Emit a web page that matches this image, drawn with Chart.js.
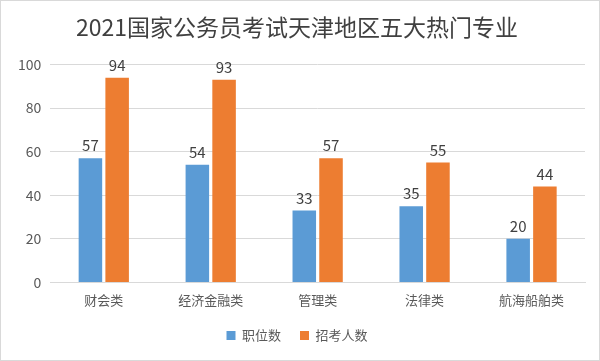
<!DOCTYPE html>
<html>
<head>
<meta charset="utf-8">
<script src="https://cdn.jsdelivr.net/npm/chart.js@4/dist/chart.umd.min.js"></script>
<style>
  html, body { margin: 0; padding: 0; background: #fff; }
  #wrap { position: relative; width: 598px; height: 359px; border: 1px solid #d9d9d9; }
</style>
</head>
<body>
<div id="wrap"><canvas id="chart"></canvas></div>
<script>
// chart data
const categories = ['财会类', '经济金融类', '管理类', '法律类', '航海船舶类'];
const positions = [57, 54, 33, 35, 20];
const applicants = [94, 93, 57, 55, 44];
const yTicks = [0, 20, 40, 60, 80, 100];

const FONT = '"Noto Sans CJK SC", "Liberation Sans", sans-serif';

// draw value labels above each bar
const valueLabels = {
  id: 'valueLabels',
  afterDatasetsDraw(chart) {
    const ctx = chart.ctx;
    ctx.save();
    ctx.fillStyle = '#404040';
    ctx.font = '15px ' + FONT;
    ctx.textAlign = 'center';
    ctx.textBaseline = 'bottom';
    chart.data.datasets.forEach((ds, i) => {
      chart.getDatasetMeta(i).data.forEach((bar, j) => {
        ctx.fillText(ds.data[j], bar.x, bar.y - 5);
      });
    });
    ctx.restore();
  }
};

new Chart(document.getElementById('chart'), {
  type: 'bar',
  data: {
    labels: categories,
    datasets: [
      { label: '职位数', data: positions, backgroundColor: '#5b9bd5' },
      { label: '招考人数', data: applicants, backgroundColor: '#ed7d31' }
    ]
  },
  options: {
    responsive: true,
    maintainAspectRatio: false,
    animation: false,
    layout: { padding: { left: 8, right: 14, top: 0, bottom: 8 } },
    datasets: { bar: { categoryPercentage: 0.5, barPercentage: 0.88 } },
    plugins: {
      title: {
        display: true,
        text: '2021国家公务员考试天津地区五大热门专业',
        color: '#404040',
        font: { family: FONT, size: 23, weight: 'normal' },
        padding: { top: 12, bottom: 24 }
      },
      legend: {
        position: 'bottom',
        labels: {
          color: '#595959',
          font: { family: FONT, size: 13 },
          boxWidth: 9,
          boxHeight: 9,
          padding: 19
        }
      },
      tooltip: { enabled: false }
    },
    scales: {
      x: {
        grid: { display: false },
        border: { color: '#d9d9d9' },
        ticks: { color: '#595959', padding: 2, font: { family: FONT, size: 13 } }
      },
      y: {
        min: 0,
        max: 100,
        afterBuildTicks(axis) { axis.ticks = yTicks.map(v => ({ value: v })); },
        grid: { color: '#d9d9d9', drawTicks: false },
        border: { display: false },
        ticks: { color: '#595959', padding: 9, font: { family: FONT, size: 14 } }
      }
    }
  },
  plugins: [valueLabels]
});
</script>
</body>
</html>
